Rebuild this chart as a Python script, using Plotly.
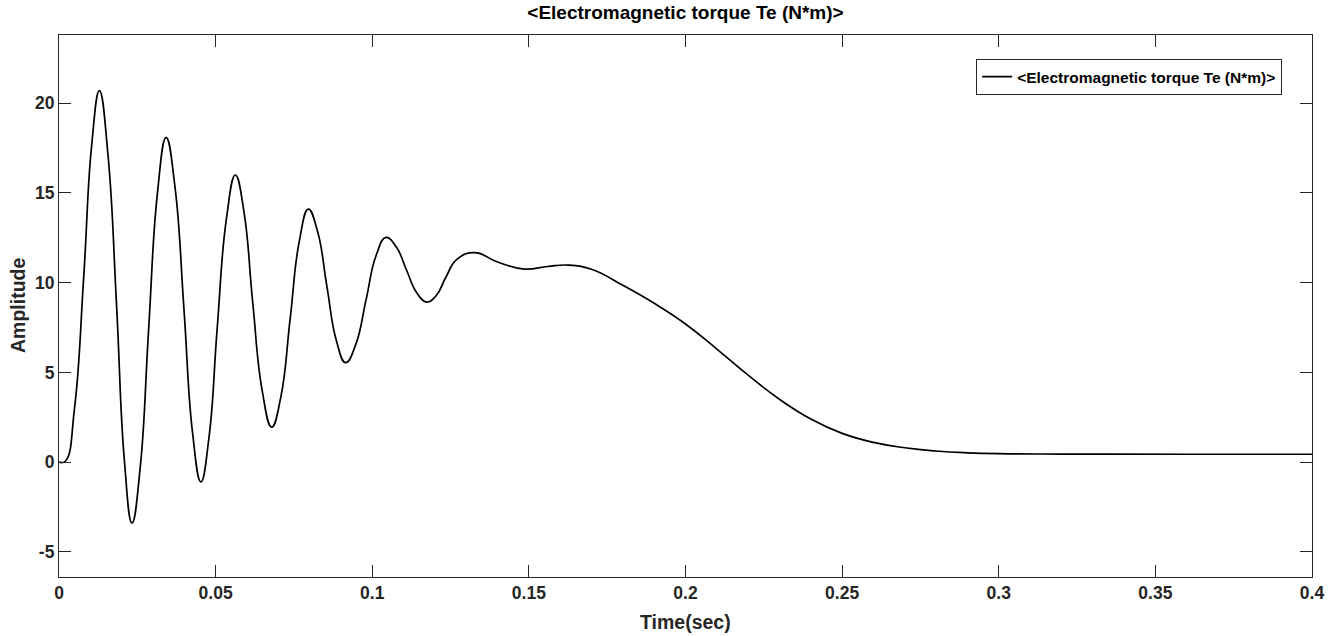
import plotly.graph_objects as go

# Time (s) and electromagnetic torque (N*m):
# extrema, shoulders and mid-level crossings of the oscillation, then the decay tail
time_s = [0.0, 0.0020, 0.00495, 0.0079, 0.0104, 0.0129,
          0.01565, 0.0184, 0.02085, 0.0233,
          0.02595, 0.0286, 0.0314, 0.0342,
          0.03705, 0.0399, 0.0426, 0.0453,
          0.0479, 0.0505, 0.0534, 0.0563,
          0.05905, 0.0618, 0.06485, 0.0679,
          0.07085, 0.0738, 0.0767, 0.0796,
          0.08255, 0.0855, 0.0885, 0.0915,
          0.09475, 0.0980, 0.1012, 0.1044,
          0.10765, 0.1109, 0.11415, 0.1174,
          0.1205, 0.1235, 0.1270, 0.1328,
          0.1400, 0.1485, 0.1560, 0.1625, 0.1700,
          0.1800, 0.1900, 0.2000, 0.2100, 0.2200,
          0.2300, 0.2400, 0.2500, 0.2600, 0.2700,
          0.2800, 0.2900, 0.3000, 0.3200, 0.3600, 0.4000]
torque_nm = [0.0, 0.05, 3.0, 10.35, 17.6, 20.7,
             17.1, 8.65, 0.15, -3.4,
             -0.25, 7.35, 14.95, 18.1,
             15.3, 8.5, 1.7, -1.1,
             1.4, 7.45, 13.5, 16.0,
             13.95, 8.98, 4.0, 1.95,
             3.66, 8.0, 12.3, 14.1,
             12.85, 9.82, 6.8, 5.54,
             6.56, 9.03, 11.5, 12.52,
             12.0, 10.72, 9.45, 8.92,
             9.3, 10.3, 11.3, 11.67,
             11.15, 10.76, 10.9, 10.98, 10.75,
             9.85, 8.85, 7.7, 6.3, 4.85,
             3.5, 2.4, 1.6, 1.1, 0.8,
             0.62, 0.52, 0.47, 0.45, 0.44, 0.44]

x_tick_vals = [0, 0.05, 0.1, 0.15, 0.2, 0.25, 0.3, 0.35, 0.4]
x_tick_text = ["0", "0.05", "0.1", "0.15", "0.2", "0.25", "0.3", "0.35", "0.4"]
y_tick_vals = [-5, 0, 5, 10, 15, 20]
y_tick_text = ["-5", "0", "5", "10", "15", "20"]

series_name = "&lt;Electromagnetic torque Te (N*m)&gt;"
x_title = "Time(sec)"
y_title = "Amplitude"
font_family = "Liberation Sans, Arial, sans-serif"
axis_color = "#262626"

fig = go.Figure()
fig.add_trace(go.Scatter(
    x=time_s, y=torque_nm, mode="lines", name=series_name,
    line=dict(color="black", width=1.7, shape="spline", smoothing=1.3),
    showlegend=True,
))

axis_common = dict(
    showgrid=False, zeroline=False, showline=True, linecolor=axis_color,
    linewidth=1.2, mirror="ticks", ticks="inside", ticklen=12,
    tickcolor=axis_color, tickwidth=1.2, automargin=False,
    tickfont=dict(family=font_family, size=17.5, color=axis_color, weight="bold"),
)

title_font = dict(family=font_family, size=19.5, color=axis_color, weight="bold")

fig.update_layout(
    width=1339, height=636,
    margin=dict(l=59, r=27, t=35, b=59),
    paper_bgcolor="white", plot_bgcolor="white",
    title=dict(text=series_name, x=0.5, xanchor="center", xref="paper",
               y=1, yref="paper", yanchor="bottom", pad=dict(b=16),
               font=dict(family=font_family, size=19, color="black", weight="bold")),
    xaxis=dict(range=[0, 0.4], tickvals=x_tick_vals, ticktext=x_tick_text, **axis_common),
    yaxis=dict(range=[-6.4, 23.8], tickvals=y_tick_vals, ticktext=y_tick_text, **axis_common),
    legend=dict(x=0.976, xanchor="right", y=0.956, yanchor="top",
                bgcolor="white", bordercolor=axis_color, borderwidth=1.2,
                font=dict(family=font_family, size=15.5, color="black", weight="bold"),
                itemwidth=30, tracegroupgap=0),
    showlegend=True,
    annotations=[
        dict(text=x_title, xref="paper", yref="paper", x=0.5, y=0,
             xanchor="center", yanchor="middle", yshift=-45, showarrow=False,
             font=title_font),
        dict(text=y_title, xref="paper", yref="paper", x=0, y=0.5,
             xanchor="center", yanchor="middle", xshift=-41, textangle=-90,
             showarrow=False, font=title_font),
    ],
)

fig.write_html("out.html")
